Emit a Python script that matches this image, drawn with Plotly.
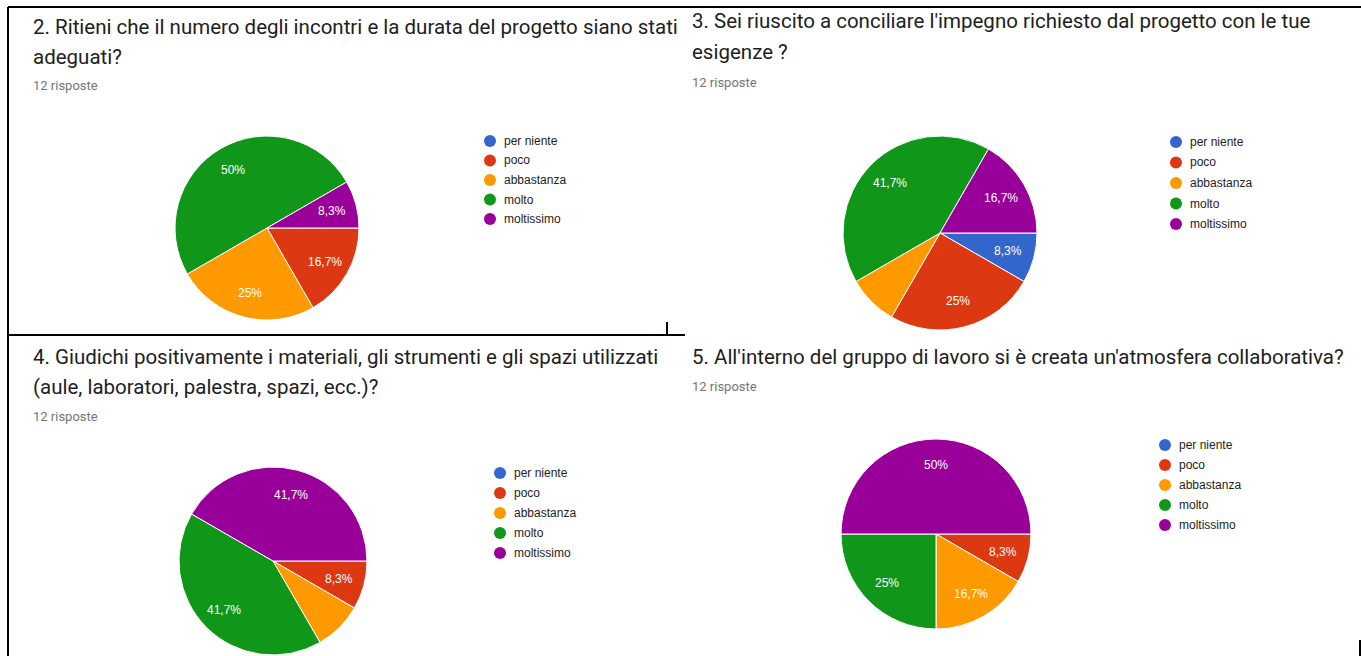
import math
import plotly.graph_objects as go

W, H = 1361, 656

# Answer categories and their colours (Google Forms palette)
categories = ["per niente", "poco", "abbastanza", "molto", "moltissimo"]
colors = ["#3366cc", "#dc3912", "#ff9900", "#109618", "#990099"]

# Number of answers per category (12 responses each)
q2_counts = [0, 2, 3, 6, 1]
q3_counts = [1, 3, 1, 5, 2]
q4_counts = [0, 1, 1, 5, 5]
q5_counts = [0, 1, 2, 3, 6]

# Slices whose percentage label is not printed
q3_hidden = ["abbastanza"]
q4_hidden = ["abbastanza"]

q2_title = ["2. Ritieni che il numero degli incontri e la durata del progetto siano stati",
            "adeguati?"]
q3_title = ["3. Sei riuscito a conciliare l'impegno richiesto dal progetto con le tue",
            "esigenze ?"]
q4_title = ["4. Giudichi positivamente i materiali, gli strumenti e gli spazi utilizzati",
            "(aule, laboratori, palestra, spazi, ecc.)?"]
q5_title = ["5. All'interno del gruppo di lavoro si è creata un'atmosfera collaborativa?"]
responses_label = "12 risposte"

LABEL_RADIUS = 0.73  # slice labels sit at this fraction of the pie radius


def px(x):
    return x / W


def py(y):
    return 1 - y / H


def pct_text(count, total):
    s = f"{count / total * 100:.1f}".replace(".", ",")
    if s.endswith(",0"):
        s = s[:-2]
    return s + "%"


# panel layout: title lines, subtitle, pie centre/radius, legend anchor
panels = [
    dict(counts=q2_counts, hidden=[], title=q2_title, tx=31, ty=[27, 57], sy=85,
         cx=267, cy=228, r=92, lx=490, ly=141, ldy=19.5),
    dict(counts=q3_counts, hidden=q3_hidden, title=q3_title, tx=690, ty=[21, 52], sy=82,
         cx=940, cy=233, r=97, lx=1176, ly=142, ldy=20.5),
    dict(counts=q4_counts, hidden=q4_hidden, title=q4_title, tx=31, ty=[357, 387], sy=416,
         cx=273, cy=561, r=94, lx=500, ly=473, ldy=20),
    dict(counts=q5_counts, hidden=[], title=q5_title, tx=690, ty=[357], sy=386,
         cx=936, cy=534, r=95, lx=1165, ly=445, ldy=20),
]

fig = go.Figure()
annotations = []
shapes = []

for p in panels:
    counts = p["counts"]
    total = sum(counts)
    fig.add_trace(go.Pie(
        labels=categories,
        values=counts,
        textinfo="none",
        marker=dict(colors=colors, line=dict(color="white", width=1)),
        sort=False,
        direction="clockwise",
        rotation=90,
        showlegend=False,
        hoverinfo="label+percent",
        domain=dict(x=[px(p["cx"] - p["r"]), px(p["cx"] + p["r"])],
                    y=[py(p["cy"] + p["r"]), py(p["cy"] - p["r"])]),
    ))

    # percentage labels along each slice's bisector (slices run clockwise from 3 o'clock)
    cum = 0
    for cat, c in zip(categories, counts):
        mid = (cum + c / 2) / total * 2 * math.pi
        cum += c
        if c == 0 or cat in p["hidden"]:
            continue
        lx = p["cx"] + LABEL_RADIUS * p["r"] * math.cos(mid)
        ly = p["cy"] + LABEL_RADIUS * p["r"] * math.sin(mid)
        annotations.append(dict(
            text=pct_text(c, total), x=px(lx), y=py(ly), xref="paper", yref="paper",
            xanchor="center", yanchor="middle", showarrow=False,
            font=dict(family="Liberation Sans, Arial", size=12, color="white")))

    for line, y in zip(p["title"], p["ty"]):
        annotations.append(dict(
            text=line, x=px(p["tx"]), y=py(y), xref="paper", yref="paper",
            xanchor="left", yanchor="middle", showarrow=False,
            font=dict(family="Roboto", size=20.5, color="#212121")))
    annotations.append(dict(
        text=responses_label, x=px(p["tx"]), y=py(p["sy"]), xref="paper", yref="paper",
        xanchor="left", yanchor="middle", showarrow=False,
        font=dict(family="Roboto", size=13, color="#757575")))

    # legend: coloured dots with category names
    for i, (cat, col) in enumerate(zip(categories, colors)):
        yc = p["ly"] + i * p["ldy"]
        shapes.append(dict(type="circle", xref="paper", yref="paper",
                           x0=px(p["lx"] - 6), x1=px(p["lx"] + 6),
                           y0=py(yc + 6), y1=py(yc - 6),
                           fillcolor=col, line=dict(width=0)))
        annotations.append(dict(
            text=cat, x=px(p["lx"] + 12), y=py(yc), xref="paper", yref="paper",
            xanchor="left", yanchor="middle", showarrow=False,
            font=dict(family="Liberation Sans, Arial", size=12, color="#222222")))

# page frame lines
frame = [
    (8, 7, 1361, 7),
    (8, 7, 8, 656),
    (8, 335, 685, 335),
    (667, 322, 667, 335),
    (1360, 640, 1360, 656),
]
for x0, y0, x1, y1 in frame:
    shapes.append(dict(type="line", xref="paper", yref="paper",
                       x0=px(x0), y0=py(y0), x1=px(x1), y1=py(y1),
                       line=dict(color="black", width=2)))

fig.update_layout(
    width=W, height=H,
    margin=dict(l=0, r=0, t=0, b=0),
    paper_bgcolor="white",
    plot_bgcolor="white",
    annotations=annotations,
    shapes=shapes,
)

fig.write_html("out.html")
